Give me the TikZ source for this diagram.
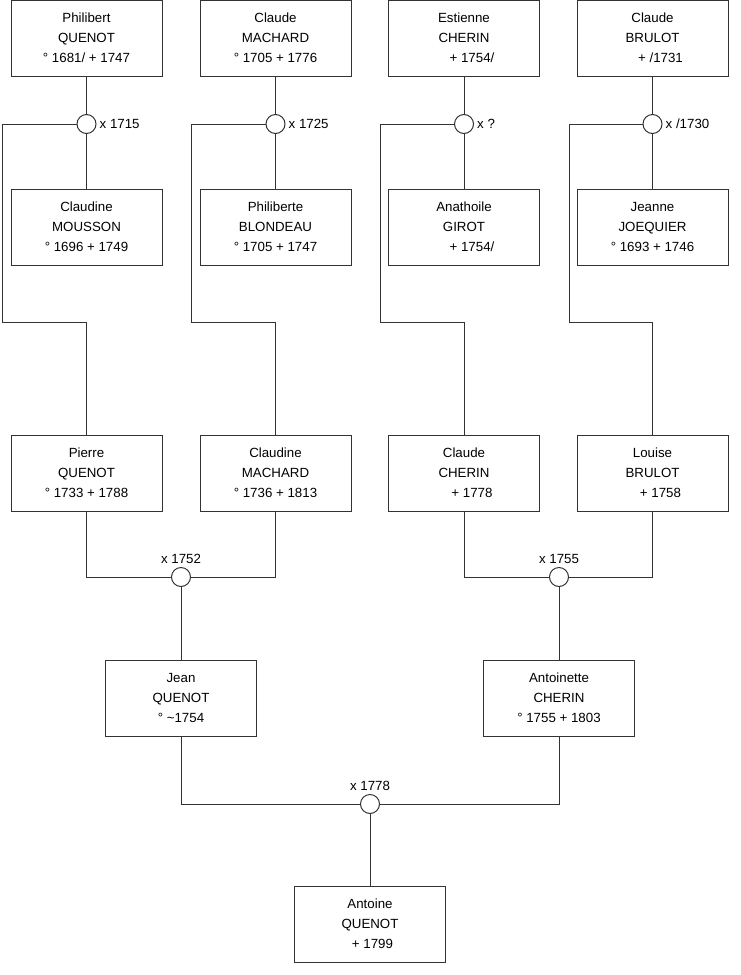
\documentclass[tikz,border=0pt]{standalone}
\usepackage{fontspec}
\setmainfont{Liberation Sans}
\usetikzlibrary{positioning}
\newcommand\pers[3]{\raisebox{2.5pt}{\begin{tabular}{@{}c@{}}#1\\#2\\#3\end{tabular}}}
\newcommand\lead{\hspace{16pt}}
\begin{document}
\begin{tikzpicture}[x=1pt,y=-1pt,
  font=\fontsize{13.3}{20}\selectfont,
  box/.style={draw=black!80, line width=1pt, minimum width=151pt, minimum height=76pt, inner sep=0pt, align=center},
  ring/.style={circle, draw=black!80, fill=white, line width=1pt, minimum size=19pt, inner sep=0pt},
  lab/.style={inner sep=2pt},
  conn/.style={draw=black!80, line width=1pt}]
\useasboundingbox (0,0) rectangle (740,975);
% row 1
\node[box] (p1) at (86.5,38) {\pers{Philibert}{QUENOT}{° 1681/ + 1747}};
\node[box] (p2) at (275.5,38) {\pers{Claude}{MACHARD}{° 1705 + 1776}};
\node[box] (p3) at (464,38) {\pers{Estienne}{CHERIN}{\lead+ 1754/}};
\node[box] (p4) at (652.5,38) {\pers{Claude}{BRULOT}{\lead+ /1731}};
% marriage rings row 1
\node[ring] (c1) at (86.5,124) {};
\node[ring] (c2) at (275.5,124) {};
\node[ring] (c3) at (464,124) {};
\node[ring] (c4) at (652.5,124) {};
\node[lab, right=1pt of c1] (l1) {x 1715};
\node[lab, right=1pt of c2] (l2) {x 1725};
\node[lab, right=1pt of c3] (l3) {x ?};
\node[lab, right=1pt of c4] (l4) {x /1730};
% row 2
\node[box] (w1) at (86.5,227) {\pers{Claudine}{MOUSSON}{° 1696 + 1749}};
\node[box] (w2) at (275.5,227) {\pers{Philiberte}{BLONDEAU}{° 1705 + 1747}};
\node[box] (w3) at (464,227) {\pers{Anathoile}{GIROT}{\lead+ 1754/}};
\node[box] (w4) at (652.5,227) {\pers{Jeanne}{JOEQUIER}{° 1693 + 1746}};
% row 3
\node[box] (r1) at (86.5,473) {\pers{Pierre}{QUENOT}{° 1733 + 1788}};
\node[box] (r2) at (275.5,473) {\pers{Claudine}{MACHARD}{° 1736 + 1813}};
\node[box] (r3) at (464,473) {\pers{Claude}{CHERIN}{\lead+ 1778}};
\node[box] (r4) at (652.5,473) {\pers{Louise}{BRULOT}{\lead+ 1758}};
% bends
\coordinate (k1) at (2,322);
\coordinate (k2) at (191,322);
\coordinate (k3) at (380,322);
\coordinate (k4) at (569,322);
% marriage rings row 3
\node[ring] (m1) at (181,577) {};
\node[ring] (m2) at (559,577) {};
\node[lab, above=1.5pt of m1] (lm1) {x 1752};
\node[lab, above=1.5pt of m2] (lm2) {x 1755};
% row 4
\node[box] (j) at (181,698) {\pers{Jean}{QUENOT}{° \textasciitilde1754}};
\node[box] (a) at (559,698) {\pers{Antoinette}{CHERIN}{° 1755 + 1803}};
\node[ring] (m3) at (370,804) {};
\node[lab, above=1.5pt of m3] (lm3) {x 1778};
% child
\node[box] (ant) at (370,924) {\pers{Antoine}{QUENOT}{\hspace{5pt}+ 1799}};
% connectors
\foreach \i in {1,2,3,4}{
  \draw[conn] (p\i.south) -- (c\i.north);
  \draw[conn] (c\i.south) -- (w\i.north);
  \draw[conn] (c\i.west) -| (k\i) -| (r\i.north);
}
\draw[conn] (r1.south) |- (m1.west);
\draw[conn] (m1.east) -| (r2.south);
\draw[conn] (r3.south) |- (m2.west);
\draw[conn] (m2.east) -| (r4.south);
\draw[conn] (m1.south) -- (j.north);
\draw[conn] (m2.south) -- (a.north);
\draw[conn] (j.south) |- (m3.west);
\draw[conn] (m3.east) -| (a.south);
\draw[conn] (m3.south) -- (ant.north);
\end{tikzpicture}
\end{document}
